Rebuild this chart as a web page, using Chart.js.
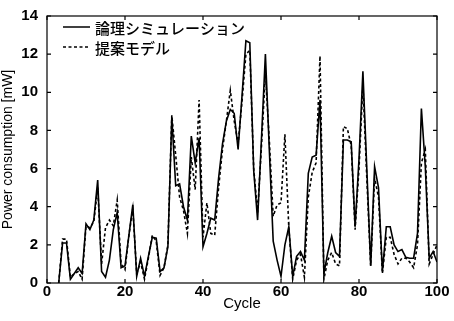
<!DOCTYPE html>
<html>
<head>
<meta charset="utf-8">
<script src="https://cdn.jsdelivr.net/npm/chart.js@4.4.1/dist/chart.umd.min.js"></script>
<style>
  html, body { margin: 0; padding: 0; background: #fff; }
  #wrap { width: 454px; height: 321px; }
</style>
</head>
<body>
<div id="wrap"><canvas id="powerChart" width="454" height="321"></canvas></div>
<script>
const cycles = [];
for (let c = 3; c <= 100; c++) cycles.push(c);

// 論理シミュレーション (solid)
const simPower = [
  0, 2.1, 2.1, 0.2, 0.5, 0.8, 0.5, 3.1, 2.8, 3.3,
  5.4, 0.6, 0.3, 1.2, 2.8, 3.7, 0.8, 0.9, 2.5, 4.1,
  0.35, 1.3, 0.35, 1.4, 2.4, 2.35, 0.6, 0.8, 1.9, 8.7,
  5.1, 5.2, 4.0, 3.3, 7.7, 6.3, 7.6, 1.9, 2.6, 3.4,
  3.3, 5.5, 7.3, 8.5, 9.1, 8.9, 7.0, 9.8, 12.7, 12.6,
  5.9, 3.3, 7.6, 12.0, 7.0, 2.2, 1.2, 0.35, 2.0, 2.95,
  0.35, 1.4, 1.65, 1.2, 5.75, 6.6, 6.7, 9.6, 0.5, 1.6,
  2.45, 1.6, 1.4, 7.5, 7.5, 7.4, 2.95, 6.5, 11.1, 6.0,
  0.9, 6.1, 5.0, 0.6, 2.95, 2.95, 2.0, 1.65, 1.75, 1.35,
  1.3, 1.3, 2.6, 9.15, 6.1, 1.3, 1.65, 1.1
];

// 提案モデル (dashed)
const modelPower = [
  0, 2.3, 2.3, 0.3, 0.5, 0.6, 0.2, 3.0, 2.9, 3.2,
  5.0, 1.0, 2.9, 3.3, 3.0, 4.35, 1.0, 0.7, 2.5, 3.9,
  0.5, 1.1, 0.2, 1.3, 2.5, 2.2, 0.4, 0.8, 2.0, 8.8,
  6.7, 4.5, 3.8, 2.6, 6.6, 4.9, 9.6, 2.4, 4.2, 2.6,
  2.5, 5.0, 7.0, 8.5, 10.1, 8.5, 7.3, 9.5, 12.0, 12.2,
  6.0, 3.7, 7.2, 11.0, 7.5, 3.5, 4.1, 4.2, 7.8, 2.9,
  0.2, 1.2, 1.5, 0.3, 4.5, 5.8, 6.3, 11.9, 0.2, 1.2,
  1.6, 1.0, 0.9, 8.2, 8.1, 7.2, 2.8, 6.0, 10.4, 5.5,
  0.9, 5.5, 4.5, 0.5, 2.4, 2.4, 1.5, 1.0, 1.3, 1.3,
  1.1, 0.8, 2.0, 6.3, 7.0, 1.0, 1.5, 2.0
];

const legendLabels = ['論理シミュレーション', '提案モデル'];
const xTicks = [0, 20, 40, 60, 80, 100];
const yTicks = [0, 2, 4, 6, 8, 10, 12, 14];

const font = '"Liberation Sans", Arial, sans-serif';

// matlab style box with inward ticks, plus legend inside the axes
const boxPlugin = {
  id: 'box',
  afterDraw(chart) {
    const { ctx, chartArea: a, scales: { x, y } } = chart;
    ctx.save();
    ctx.strokeStyle = '#000';
    ctx.lineWidth = 1.2;
    ctx.strokeRect(a.left, a.top, a.right - a.left, a.bottom - a.top);
    ctx.beginPath();
    xTicks.forEach(v => {
      const px = x.getPixelForValue(v);
      ctx.moveTo(px, a.bottom); ctx.lineTo(px, a.bottom - 4);
      ctx.moveTo(px, a.top); ctx.lineTo(px, a.top + 4);
    });
    yTicks.forEach(v => {
      const py = y.getPixelForValue(v);
      ctx.moveTo(a.left, py); ctx.lineTo(a.left + 4, py);
      ctx.moveTo(a.right, py); ctx.lineTo(a.right - 4, py);
    });
    ctx.stroke();

    // legend
    const lx = a.left + 16, rows = [a.top + 11, a.top + 31];
    chart.data.datasets.forEach((ds, i) => {
      ctx.beginPath();
      ctx.lineWidth = 1.5;
      ctx.setLineDash(ds.borderDash || []);
      ctx.moveTo(lx, rows[i]);
      ctx.lineTo(lx + 27, rows[i]);
      ctx.stroke();
      ctx.setLineDash([]);
      ctx.fillStyle = '#000';
      ctx.font = '500 15px "Noto Sans CJK JP", sans-serif';
      ctx.textBaseline = 'middle';
      ctx.fillText(legendLabels[i], lx + 32, rows[i] + 1);
    });
    ctx.restore();
  }
};

new Chart(document.getElementById('powerChart'), {
  type: 'line',
  data: {
    datasets: [
      {
        label: legendLabels[0],
        data: cycles.map((c, i) => ({ x: c, y: simPower[i] })),
        borderColor: '#000',
        borderWidth: 1.6,
        pointRadius: 0,
        tension: 0
      },
      {
        label: legendLabels[1],
        data: cycles.map((c, i) => ({ x: c, y: modelPower[i] })),
        borderColor: '#000',
        borderWidth: 1.6,
        borderDash: [3, 2.5],
        pointRadius: 0,
        tension: 0
      }
    ]
  },
  options: {
    responsive: false,
    animation: false,
    layout: { padding: { left: 0, right: 17, top: 16, bottom: 8 } },
    plugins: { legend: { display: false }, tooltip: { enabled: false } },
    scales: {
      x: {
        type: 'linear',
        min: 0, max: 100,
        afterBuildTicks: s => { s.ticks = xTicks.map(v => ({ value: v })); },
        grid: { display: false },
        border: { display: false },
        ticks: { color: '#000', font: { family: font, size: 15, weight: 'bold' }, padding: -8, maxRotation: 0 },
        title: { display: true, text: 'Cycle', color: '#000', font: { family: font, size: 15 }, padding: 0 },
        afterFit: s => { s.height = 30; }
      },
      y: {
        min: 0, max: 14,
        afterBuildTicks: s => { s.ticks = yTicks.map(v => ({ value: v })); },
        grid: { display: false },
        border: { display: false },
        ticks: { color: '#000', font: { family: font, size: 15, weight: 'bold' }, padding: 1 },
        title: { display: true, text: 'Power consumption [mW]', color: '#000', font: { family: font, size: 14 }, padding: 0 },
        afterFit: s => { s.width = 47; }
      }
    }
  },
  plugins: [boxPlugin]
});
</script>
</body>
</html>
